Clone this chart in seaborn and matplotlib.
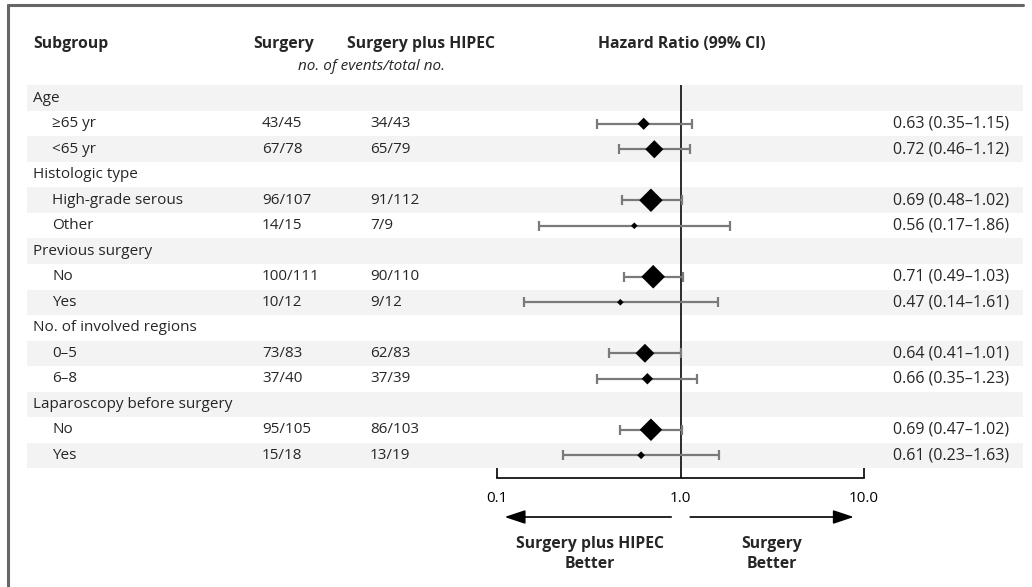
import matplotlib
matplotlib.use("Agg")
import matplotlib.pyplot as plt
import matplotlib.transforms as mtransforms
from matplotlib.patches import Rectangle
from matplotlib.ticker import NullLocator
import seaborn as sns
import numpy as np
import pandas as pd

# ---------------- data ----------------
groups = ["Age", "Histologic type", "Previous surgery",
          "No. of involved regions", "Laparoscopy before surgery"]
subgroups = [["≥65 yr", "<65 yr"], ["High-grade serous", "Other"], ["No", "Yes"],
             ["0–5", "6–8"], ["No", "Yes"]]
surgery_events = [43, 67, 96, 14, 100, 10, 73, 37, 95, 15]
surgery_total = [45, 78, 107, 15, 111, 12, 83, 40, 105, 18]
hipec_events = [34, 65, 91, 7, 90, 9, 62, 37, 86, 13]
hipec_total = [43, 79, 112, 9, 110, 12, 83, 39, 103, 19]
hr = [0.63, 0.72, 0.69, 0.56, 0.71, 0.47, 0.64, 0.66, 0.69, 0.61]
ci_low = [0.35, 0.46, 0.48, 0.17, 0.49, 0.14, 0.41, 0.35, 0.47, 0.23]
ci_high = [1.15, 1.12, 1.02, 1.86, 1.03, 1.61, 1.01, 1.23, 1.02, 1.63]
x_ticks = [0.1, 1.0, 10.0]
x_tick_labels = ["0.1", "1.0", "10.0"]
header_subgroup = "Subgroup"
header_surgery = "Surgery"
header_hipec = "Surgery plus HIPEC"
header_hr = "Hazard Ratio (99% CI)"
header_sub = "no. of events/total no."
left_label = "Surgery plus HIPEC\nBetter"
right_label = "Surgery\nBetter"

# ---------------- build table ----------------
rows = []
k = 0
for g, subs in zip(groups, subgroups):
    rows.append(dict(label=g, kind="group"))
    for s in subs:
        rows.append(dict(label=s, kind="sub", se=surgery_events[k], st=surgery_total[k],
                         he=hipec_events[k], ht=hipec_total[k], hr=hr[k],
                         lo=ci_low[k], hi=ci_high[k]))
        k += 1
df = pd.DataFrame(rows)
df["row"] = np.arange(len(df))
sub = df[df["kind"] == "sub"].copy()
sub["n"] = sub["st"] + sub["ht"]
# diamond width (px) grows with sample size -> scatter area (pt^2)
w_px = 1.15 * (4 + 0.075 * sub["n"])
side_pt = w_px * 0.72 / np.sqrt(2)
sub["area"] = side_pt ** 2

# ---------------- figure ----------------
sns.set_theme(style="white")
plt.rcParams["font.family"] = ["Open Sans", "DejaVu Sans"]
W, H = 1032, 587
fig = plt.figure(figsize=(W / 100, H / 100), dpi=100)
fig.patch.set_facecolor("white")

def fx(px):
    return px / W

def fy(py):
    return 1 - py / H

row_h = 25.5
top_px = 85.5
ax_left, ax_right, ax_bottom = 497, 864, 478
ax = fig.add_axes([fx(ax_left), fy(ax_bottom), (ax_right - ax_left) / W, (ax_bottom - top_px) / H])
ax.set_xscale("log")
ax.set_xlim(0.1, 10)
nrows_span = (ax_bottom - top_px) / row_h
ax.set_ylim(nrows_span - 0.5, -0.5)
ax.patch.set_visible(False)

# stripes
blend = mtransforms.blended_transform_factory(fig.transFigure, ax.transData)
for r in df["row"]:
    if r % 2 == 0:
        ax.add_patch(Rectangle((fx(27), r - 0.5), fx(1023) - fx(27), 1.0, transform=blend,
                               facecolor="#f3f3f3", edgecolor="none", clip_on=False, zorder=0))

# reference line
ax.axvline(1.0, color="#2b2b2b", lw=1.4, zorder=1)

# CIs
ax.errorbar(sub["hr"], sub["row"],
            xerr=[sub["hr"] - sub["lo"], sub["hi"] - sub["hr"]],
            fmt="none", ecolor="#7a7a7a", elinewidth=1.6, capsize=3.8, capthick=1.6, zorder=2)

# diamonds
amin, amax = sub["area"].min(), sub["area"].max()
sns.scatterplot(data=sub, x="hr", y="row", size="area", sizes=(amin, amax),
                size_norm=(amin, amax), marker="D", color="black", edgecolor="black",
                linewidth=0, legend=False, ax=ax, zorder=3)

ax.set_xlabel("")
ax.set_ylabel("")
ax.set_yticks([])
ax.set_xticks(x_ticks)
ax.set_xticklabels(x_tick_labels)
ax.xaxis.set_minor_locator(NullLocator())
for sp in ["top", "left", "right"]:
    ax.spines[sp].set_visible(False)
ax.spines["bottom"].set_color("black")
ax.spines["bottom"].set_linewidth(1.2)
ax.tick_params(axis="x", direction="in", length=7, width=1.2, color="black",
               labelsize=11, pad=9, labelcolor="black", bottom=True)

# text columns
fs = 11
for _, r in df.iterrows():
    y = r["row"]
    if r["kind"] == "group":
        ax.text(fx(33), y, r["label"], transform=blend, fontsize=fs, va="center", ha="left")
    else:
        ax.text(fx(52), y, r["label"], transform=blend, fontsize=fs, va="center", ha="left")
        ax.text(fx(262), y, f"{r['se']:.0f}/{r['st']:.0f}", transform=blend, fontsize=fs,
                va="center", ha="left")
        ax.text(fx(370), y, f"{r['he']:.0f}/{r['ht']:.0f}", transform=blend, fontsize=fs,
                va="center", ha="left")
        ax.text(fx(1009), y, f"{r['hr']:.2f} ({r['lo']:.2f}–{r['hi']:.2f})", transform=blend,
                fontsize=11.5, va="center", ha="right")

# headers
hfs = 11.3
fig.text(fx(33), fy(44), header_subgroup, fontsize=hfs, fontweight="bold", va="center", ha="left")
fig.text(fx(284), fy(44), header_surgery, fontsize=hfs, fontweight="bold", va="center", ha="center")
fig.text(fx(421), fy(44), header_hipec, fontsize=hfs, fontweight="bold", va="center", ha="center")
fig.text(fx(682), fy(44), header_hr, fontsize=hfs, fontweight="bold", va="center", ha="center")
fig.text(fx(372), fy(67), header_sub, fontsize=11, fontstyle="italic", va="center", ha="center")

# direction arrows
ya = fy(517)
ax.annotate("", xy=(0.11, ya), xytext=(0.89, ya), xycoords=("data", "figure fraction"),
            textcoords=("data", "figure fraction"),
            arrowprops=dict(arrowstyle="-|>,head_length=0.9,head_width=0.3", color="black",
                            lw=1.2, mutation_scale=14, shrinkA=0, shrinkB=0))
ax.annotate("", xy=(8.8, ya), xytext=(1.13, ya), xycoords=("data", "figure fraction"),
            textcoords=("data", "figure fraction"),
            arrowprops=dict(arrowstyle="-|>,head_length=0.9,head_width=0.3", color="black",
                            lw=1.2, mutation_scale=14, shrinkA=0, shrinkB=0))
fig.text(fx(590), fy(554), left_label, fontsize=hfs, fontweight="bold", va="center",
         ha="center", linespacing=1.3)
fig.text(fx(772), fy(554), right_label, fontsize=hfs, fontweight="bold", va="center",
         ha="center", linespacing=1.3)

# frame: top and left lines
fig.add_artist(plt.Line2D([fx(8), fx(1023)], [fy(5), fy(5)], color="#666666", lw=2.2,
                          transform=fig.transFigure))
fig.add_artist(plt.Line2D([fx(8), fx(8)], [fy(5), fy(587)], color="#666666", lw=2.2,
                          transform=fig.transFigure))

fig.savefig("out.png", dpi=100, facecolor="white")
